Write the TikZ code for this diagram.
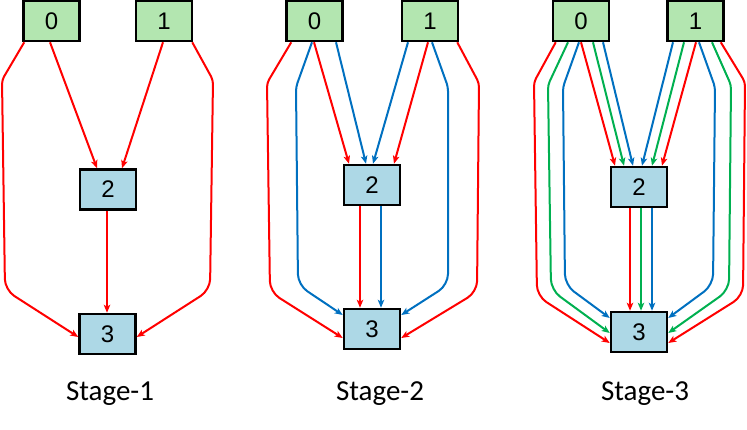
\documentclass[tikz,border=0pt]{standalone}
\usepackage{fontspec}
\setmainfont{Liberation Sans}
\newfontfamily\capfont{Carlito}
\usetikzlibrary{arrows.meta}
\definecolor{srcfill}{RGB}{179,230,176}
\definecolor{midfill}{RGB}{173,216,230}
\definecolor{ered}{RGB}{255,0,0}
\definecolor{eblue}{RGB}{0,112,192}
\definecolor{egreen}{RGB}{0,176,80}
\tikzset{
  srcbox/.style={draw=black, line width=2.5pt, fill=srcfill, minimum width=56pt, minimum height=40pt, inner sep=0pt, font=\fontsize{24}{24}\selectfont},
  midbox/.style={draw=black, line width=2.5pt, fill=midfill, minimum width=56pt, minimum height=40pt, inner sep=0pt, font=\fontsize{24}{24}\selectfont},
  caption/.style={font=\capfont\fontsize{29}{29}\selectfont, inner sep=0pt},
  edge/.style={line width=2pt, rounded corners=4pt},
  r/.style={edge, draw=ered, -{Stealth[length=8pt,width=6.5pt,inset=2pt,fill=ered]}},
  b/.style={edge, draw=eblue, -{Stealth[length=8pt,width=6.5pt,inset=2pt,fill=eblue]}},
  g/.style={edge, draw=egreen, -{Stealth[length=8pt,width=6.5pt,inset=2pt,fill=egreen]}},
  lowbend/.style={rounded corners=11pt},
}
\begin{document}
\begin{tikzpicture}[x=1pt,y=-1pt]
\useasboundingbox (0,0) rectangle (747,429);
% ---------- Stage 1 ----------
\node[srcbox] (A0) at (51.5,21) {0};
\node[srcbox] (A1) at (164,21) {1};
\node[midbox] (A2) at (108,189.5) {2};
\node[midbox] (A3) at (107.5,334) {3};
\node[caption] (S1) at (110,394) {Stage-1};
\draw[r] ([xshift=2pt]A0.south west) -- (2,80) {[lowbend] -- (5,290) -- ([yshift=-3pt]A3.west)};
\draw[r] ([xshift=-1.5pt]A0.south) -- ([xshift=-11pt]A2.north);
\draw[r] ([xshift=-1pt]A1.south) -- ([xshift=14pt]A2.north);
\draw[r] ([xshift=-1pt]A2.south) -- ([xshift=-0.5pt]A3.north);
\draw[r] ([xshift=-1pt]A1.south east) -- (213,80) {[lowbend] -- (210,290) -- ([yshift=-3pt]A3.east)};
% ---------- Stage 2 ----------
\node[srcbox] (B0) at (314.5,21) {0};
\node[srcbox] (B1) at (430,21) {1};
\node[midbox] (B2) at (372,185) {2};
\node[midbox] (B3) at (372,329) {3};
\node[caption] (S2) at (380,394) {Stage-2};
\draw[r] ([xshift=6pt]B0.south west) -- (267,83) {[lowbend] -- (270,292) -- ([yshift=-9pt]B3.west)};
\draw[b] ([xshift=-2.5pt]B0.south) -- (296,87) {[lowbend] -- (298,285) -- ([yshift=14pt]B3.west)};
\draw[r] ([xshift=-0.5pt]B0.south) -- ([xshift=-23pt]B2.north);
\draw[b] ([xshift=21.5pt]B0.south) -- ([xshift=-6pt]B2.north);
\draw[b] ([xshift=-22pt]B1.south) -- ([xshift=1pt]B2.north);
\draw[r] ([xshift=-2pt]B1.south) -- ([xshift=22pt]B2.north);
\draw[b] ([xshift=2pt]B1.south) -- (448,87) {[lowbend] -- (448,285) -- ([yshift=14pt]B3.east)};
\draw[r] ([xshift=-2pt]B1.south east) -- (479,83) {[lowbend] -- (477,292) -- ([yshift=-9pt]B3.east)};
\draw[r] ([xshift=-12pt]B2.south) -- ([xshift=-12pt]B3.north);
\draw[b] ([xshift=9pt]B2.south) -- ([xshift=9pt]B3.north);
% ---------- Stage 3 ----------
\node[srcbox] (C0) at (581,21) {0};
\node[srcbox] (C1) at (695.5,21) {1};
\node[midbox] (C2) at (639,187) {2};
\node[midbox] (C3) at (639,332) {3};
\node[caption] (S3) at (645,394) {Stage-3};
\draw[r] ([xshift=4pt]C0.south west) -- (534,82) {[lowbend] -- (537,296) -- ([yshift=-11pt]C3.west)};
\draw[g] ([xshift=-13pt]C0.south) -- (548,85) {[lowbend] -- (551,290) -- ([yshift=-1pt]C3.west)};
\draw[b] ([xshift=-2pt]C0.south) -- (563,87) {[lowbend] -- (565,285) -- ([yshift=14pt]C3.west)};
\draw[r] ([xshift=0pt]C0.south) -- ([xshift=-24pt]C2.north);
\draw[g] ([xshift=12pt]C0.south) -- ([xshift=-15pt]C2.north);
\draw[b] ([xshift=22pt]C0.south) -- ([xshift=-6pt]C2.north);
\draw[b] ([xshift=-22.5pt]C1.south) -- ([xshift=3pt]C2.north);
\draw[g] ([xshift=-11.5pt]C1.south) -- ([xshift=13pt]C2.north);
\draw[r] ([xshift=0.5pt]C1.south) -- ([xshift=23pt]C2.north);
\draw[b] ([xshift=3.5pt]C1.south) -- (715,87) {[lowbend] -- (713,285) -- ([yshift=14pt]C3.east)};
\draw[g] ([xshift=16.5pt]C1.south) -- (731,85) {[lowbend] -- (729,290) -- ([yshift=-1pt]C3.east)};
\draw[r] ([xshift=-4pt]C1.south east) -- (745,82) {[lowbend] -- (743,296) -- ([yshift=-11pt]C3.east)};
\draw[r] ([xshift=-9pt]C2.south) -- ([xshift=-9pt]C3.north);
\draw[g] ([xshift=2pt]C2.south) -- ([xshift=2pt]C3.north);
\draw[b] ([xshift=13pt]C2.south) -- ([xshift=13pt]C3.north);
\end{tikzpicture}
\end{document}
